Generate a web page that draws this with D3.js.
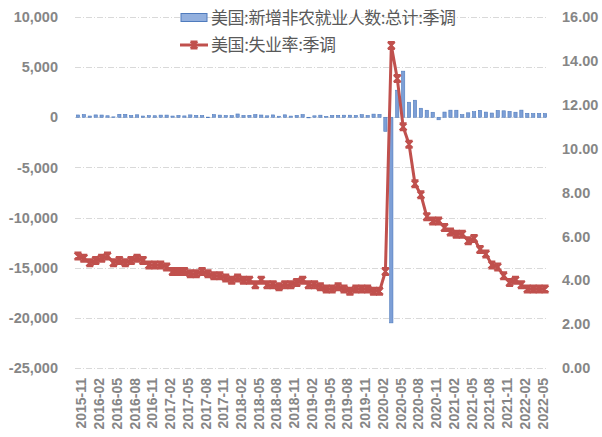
<!DOCTYPE html>
<html>
<head>
<meta charset="utf-8">
<script src="https://cdn.jsdelivr.net/npm/d3@7"></script>
<style>
  html, body { margin: 0; padding: 0; background: #ffffff; }
  svg { display: block; }
</style>
</head>
<body>
<svg id="chart" width="602" height="437"></svg>
<script>
// Monthly categories, 2015-11 .. 2022-06
const months = [
  "2015-11","2015-12",
  "2016-01","2016-02","2016-03","2016-04","2016-05","2016-06","2016-07","2016-08","2016-09","2016-10","2016-11","2016-12",
  "2017-01","2017-02","2017-03","2017-04","2017-05","2017-06","2017-07","2017-08","2017-09","2017-10","2017-11","2017-12",
  "2018-01","2018-02","2018-03","2018-04","2018-05","2018-06","2018-07","2018-08","2018-09","2018-10","2018-11","2018-12",
  "2019-01","2019-02","2019-03","2019-04","2019-05","2019-06","2019-07","2019-08","2019-09","2019-10","2019-11","2019-12",
  "2020-01","2020-02","2020-03","2020-04","2020-05","2020-06","2020-07","2020-08","2020-09","2020-10","2020-11","2020-12",
  "2021-01","2021-02","2021-03","2021-04","2021-05","2021-06","2021-07","2021-08","2021-09","2021-10","2021-11","2021-12",
  "2022-01","2022-02","2022-03","2022-04","2022-05","2022-06"
];

// Nonfarm payroll change, thousands (left axis)
const payrolls = [
  231, 272,
  126, 237, 225, 153, 43, 297, 291, 176, 249, 124, 164, 155,
  216, 219, 124, 182, 138, 239, 187, 173, 18, 270, 216, 176,
  171, 330, 182, 197, 268, 226, 147, 236, 105, 245, 119, 186,
  269, 1, 147, 210, 85, 182, 194, 207, 208, 185, 261, 184,
  315, 289, -1400, -20500, 2700, 4600, 1500, 1700, 900, 700, 500, -250,
  520, 710, 704, 263, 447, 557, 689, 517, 424, 677, 647, 588,
  504, 714, 398, 368, 384, 372
];

// Unemployment rate, % (right axis)
const unemployment = [
  5.1, 5.0,
  4.8, 4.9, 5.0, 5.1, 4.8, 4.9, 4.8, 4.9, 5.0, 4.9, 4.7, 4.7,
  4.7, 4.6, 4.4, 4.4, 4.4, 4.3, 4.3, 4.4, 4.3, 4.2, 4.2, 4.1,
  4.0, 4.1, 4.0, 4.0, 3.8, 4.0, 3.8, 3.8, 3.7, 3.8, 3.8, 3.9,
  4.0, 3.8, 3.8, 3.7, 3.6, 3.6, 3.7, 3.6, 3.5, 3.6, 3.6, 3.6,
  3.5, 3.5, 4.4, 14.7, 13.2, 11.0, 10.2, 8.4, 7.9, 6.9, 6.7, 6.7,
  6.4, 6.2, 6.1, 6.1, 5.8, 5.9, 5.4, 5.2, 4.7, 4.6, 4.2, 3.9,
  4.0, 3.8, 3.6, 3.6, 3.6, 3.6
];

const leftTicks = [10000, 5000, 0, -5000, -10000, -15000, -20000, -25000];
const rightTicks = [16, 14, 12, 10, 8, 6, 4, 2, 0];
const xTickLabels = months.filter((d, i) => i % 3 === 0);
const seriesNames = ["美国:新增非农就业人数:总计:季调", "美国:失业率:季调"];

const svg = d3.select("#chart");
const W = 602, H = 437;
const plot = { left: 75, right: 548, top: 17, bottom: 368 };

svg.append("rect").attr("width", W).attr("height", H).attr("fill", "#ffffff");

const x = d3.scaleBand()
  .domain(months)
  .range([plot.left, plot.right])
  .paddingInner(0.45)
  .paddingOuter(0.225);

const yL = d3.scaleLinear().domain([-25000, 10000]).range([plot.bottom, plot.top]);
const yR = d3.scaleLinear().domain([0, 16]).range([plot.bottom, plot.top]);

const locale = d3.formatLocale({ decimal: ".", thousands: ",", grouping: [3], currency: ["", ""], minus: "-" });
const fmtL = locale.format(",");
const fmtR = locale.format(".2f");

const axisColor = "#868686";
const labelFont = "'Liberation Sans', Arial, sans-serif";

// Gridlines
svg.append("g")
  .selectAll("line")
  .data(leftTicks)
  .join("line")
  .attr("x1", plot.left)
  .attr("x2", plot.right)
  .attr("y1", d => Math.round(yL(d)) + 0.5)
  .attr("y2", d => Math.round(yL(d)) + 0.5)
  .attr("stroke", "#d9d9d9")
  .attr("stroke-width", 1)
  .attr("stroke-dasharray", "6,2,1,2");

// Left axis
const gL = svg.append("g")
  .attr("transform", `translate(${plot.left},0)`)
  .call(d3.axisLeft(yL).tickValues(leftTicks).tickFormat(fmtL).tickSize(0).tickPadding(17));
gL.select(".domain").remove();
gL.selectAll("text")
  .attr("fill", axisColor)
  .style("font-family", labelFont)
  .style("font-size", "14.5px")
  .style("font-weight", "bold");

// Right axis
const gR = svg.append("g")
  .attr("transform", `translate(${plot.right},0)`)
  .call(d3.axisRight(yR).tickValues(rightTicks).tickFormat(fmtR).tickSize(0).tickPadding(14));
gR.select(".domain").remove();
gR.selectAll("text")
  .attr("fill", axisColor)
  .style("font-family", labelFont)
  .style("font-size", "14.5px")
  .style("font-weight", "bold");

// Bottom axis with rotated month labels
const gX = svg.append("g")
  .attr("transform", `translate(0,${plot.bottom})`)
  .call(d3.axisBottom(x).tickValues(xTickLabels).tickSize(0));
gX.select(".domain").remove();
gX.selectAll("text")
  .attr("fill", axisColor)
  .style("font-family", labelFont)
  .style("font-size", "14px")
  .style("font-weight", "bold")
  .attr("text-anchor", "end")
  .attr("x", 0)
  .attr("y", 0)
  .attr("dy", "0.35em")
  .attr("transform", "translate(3.5,10) rotate(-90)");

// Payroll bars
svg.append("g")
  .selectAll("rect")
  .data(months.map((m, i) => ({ m, v: payrolls[i] })))
  .join("rect")
  .attr("x", d => x(d.m))
  .attr("width", x.bandwidth())
  .attr("y", d => yL(Math.max(0, d.v)))
  .attr("height", d => Math.max(0.6, Math.abs(yL(d.v) - yL(0))))
  .attr("fill", "#7d9fd6")
  .attr("stroke", "#4f7bbd")
  .attr("stroke-width", 0.6);

// Unemployment line
const lineColor = "#c0504d";
const line = d3.line()
  .x((d, i) => x(months[i]) + x.bandwidth() / 2)
  .y(d => yR(d));

svg.append("path")
  .datum(unemployment)
  .attr("d", line)
  .attr("fill", "none")
  .attr("stroke", lineColor)
  .attr("stroke-width", 3)
  .attr("stroke-linejoin", "round");

// Star-type markers
const markerPath = "M-3.5,-3.5L3.5,3.5M-3.5,3.5L3.5,-3.5M0,-4L0,4M-3.5,-3.5L3.5,-3.5M-3.5,3.5L3.5,3.5";
svg.append("g")
  .selectAll("path")
  .data(unemployment)
  .join("path")
  .attr("transform", (d, i) => `translate(${x(months[i]) + x.bandwidth() / 2},${yR(d)})`)
  .attr("d", markerPath)
  .attr("fill", "none")
  .attr("stroke", lineColor)
  .attr("stroke-width", 2);

// Legend
const legend = svg.append("g");
const legendFont = "'Noto Sans CJK SC', 'Noto Sans', sans-serif";
legend.append("rect")
  .attr("x", 181).attr("y", 13.5).attr("width", 26).attr("height", 8)
  .attr("fill", "#93b0de").attr("stroke", "#4f7bbd").attr("stroke-width", 1);
legend.append("text")
  .attr("x", 211).attr("y", 18).attr("dy", "0.35em")
  .attr("fill", "#595959")
  .attr("textLength", 245)
  .attr("lengthAdjust", "spacing")
  .style("font-family", legendFont)
  .style("font-size", "17px")
  .text(seriesNames[0]);

legend.append("line")
  .attr("x1", 180).attr("x2", 208).attr("y1", 45).attr("y2", 45)
  .attr("stroke", lineColor).attr("stroke-width", 3);
legend.append("path")
  .attr("transform", "translate(194,45)")
  .attr("d", markerPath)
  .attr("fill", "none")
  .attr("stroke", lineColor)
  .attr("stroke-width", 2);
legend.append("text")
  .attr("x", 211).attr("y", 45).attr("dy", "0.35em")
  .attr("fill", "#595959")
  .attr("textLength", 125)
  .attr("lengthAdjust", "spacing")
  .style("font-family", legendFont)
  .style("font-size", "17px")
  .text(seriesNames[1]);
</script>
</body>
</html>
